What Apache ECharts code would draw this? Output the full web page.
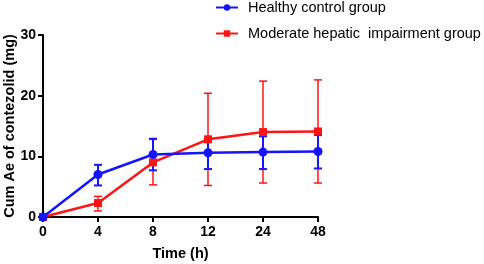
<!DOCTYPE html>
<html>
<head>
<meta charset="utf-8">
<script src="https://cdn.jsdelivr.net/npm/echarts@6/dist/echarts.min.js"></script>
<style>
  html, body { margin: 0; padding: 0; background: #fff; }
  #chart { width: 484px; height: 264px; }
</style>
</head>
<body>
<div id="chart"></div>
<script>
const times = ['0', '4', '8', '12', '24', '48'];

const healthyMean = [0, 7.0, 10.3, 10.6, 10.7, 10.8];
const healthyLow  = [0, 5.2, 7.7, 7.9, 7.9, 8.0];
const healthyHigh = [0, 8.6, 12.9, 13.2, 13.3, 13.5];

const hepaticMean = [0, 2.3, 9.0, 12.8, 14.0, 14.1];
const hepaticLow  = [0, 1.0, 5.3, 5.2, 5.6, 5.6];
const hepaticHigh = [0, 3.4, 12.8, 20.4, 22.4, 22.6];

const yTicks = [0, 10, 20, 30];

const BLUE = '#1414ff';
const RED = '#ff1414';
const FONT = 'Liberation Sans, Arial, sans-serif';

const chart = echarts.init(document.getElementById('chart'));

// error bars as custom series: [xIndex, low, high]
function errorBars(low, high) {
  return times.map((t, i) => [i, low[i], high[i]]);
}

function makeErrorSeries(name, data, color, width) {
  return {
    name: name,
    type: 'custom',
    data: data,
    z: 3,
    renderItem: (params, api) => {
      const x = api.value(0);
      const lo = api.coord([x, api.value(1)]);
      const hi = api.coord([x, api.value(2)]);
      const half = 4;
      const style = { stroke: color, lineWidth: width };
      return {
        type: 'group',
        children: [
          { type: 'line', shape: { x1: lo[0], y1: lo[1], x2: hi[0], y2: hi[1] }, style: style },
          { type: 'line', shape: { x1: lo[0] - half, y1: lo[1], x2: lo[0] + half, y2: lo[1] }, style: style },
          { type: 'line', shape: { x1: hi[0] - half, y1: hi[1], x2: hi[0] + half, y2: hi[1] }, style: style },
        ],
      };
    },
    tooltip: { show: false },
  };
}

const axisFont = { color: '#000', fontSize: 14, fontWeight: 'bold', fontFamily: FONT };
const nameFont = { color: '#000', fontSize: 14.5, fontWeight: 'bold', fontFamily: FONT };

chart.setOption({
  animation: false,
  backgroundColor: '#fff',
  grid: { left: 43, right: 166, top: 35, bottom: 47, containLabel: false, outerBoundsMode: 'none' },
  legend: {
    orient: 'vertical',
    left: 215,
    top: 0,
    padding: 0,
    itemWidth: 22,
    itemHeight: 8,
    itemGap: 11,
    data: ['Healthy control group', 'Moderate hepatic  impairment group'],
    textStyle: { color: '#000', fontSize: 14.5, fontFamily: FONT, padding: [0, 0, 0, 5] },
  },
  xAxis: {
    type: 'category',
    data: times,
    boundaryGap: false,
    name: 'Time (h)',
    nameLocation: 'middle',
    nameGap: 29,
    nameMoveOverlap: false,
    nameTextStyle: nameFont,
    axisLine: { lineStyle: { color: '#000', width: 2 } },
    axisTick: { show: true, length: 5, lineStyle: { color: '#000', width: 2 } },
    axisLabel: Object.assign({ margin: 8 }, axisFont),
    splitLine: { show: false },
  },
  yAxis: {
    type: 'value',
    min: yTicks[0],
    max: yTicks[yTicks.length - 1],
    interval: 10,
    name: 'Cum Ae of contezolid (mg)',
    nameLocation: 'middle',
    nameGap: 26,
    nameMoveOverlap: false,
    nameTextStyle: nameFont,
    axisLine: { show: true, lineStyle: { color: '#000', width: 2 } },
    axisTick: { show: true, length: 5, lineStyle: { color: '#000', width: 2 } },
    axisLabel: Object.assign({ margin: 7 }, axisFont),
    splitLine: { show: false },
  },
  series: [
    makeErrorSeries('hepatic-err', errorBars(hepaticLow, hepaticHigh), RED, 1.5),
    {
      name: 'Moderate hepatic  impairment group',
      type: 'line',
      data: hepaticMean,
      z: 4,
      symbol: 'rect',
      symbolSize: 8,
      lineStyle: { color: RED, width: 2.5 },
      itemStyle: { color: RED },
    },
    makeErrorSeries('healthy-err', errorBars(healthyLow, healthyHigh), BLUE, 2),
    {
      name: 'Healthy control group',
      type: 'line',
      data: healthyMean,
      z: 5,
      symbol: 'circle',
      symbolSize: 9,
      lineStyle: { color: BLUE, width: 2.5 },
      itemStyle: { color: BLUE },
    },
  ],
});
</script>
</body>
</html>
